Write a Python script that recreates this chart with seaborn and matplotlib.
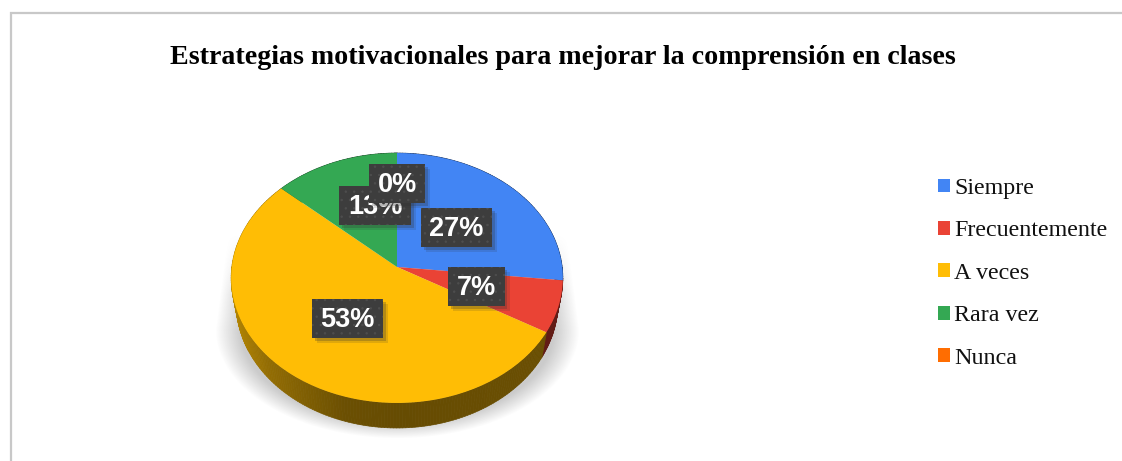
import matplotlib
matplotlib.use("Agg")
import matplotlib.pyplot as plt
import matplotlib.patheffects as pe
from matplotlib.collections import PolyCollection
from matplotlib.patches import Rectangle
from matplotlib.transforms import Transform
import numpy as np
import seaborn as sns

sns.set_theme(style="white")

titulo = "Estrategias motivacionales para mejorar la comprensión en clases"
categorias = ["Siempre", "Frecuentemente", "A veces", "Rara vez", "Nunca"]
porcentajes = [26.7, 6.7, 53.3, 13.3, 0.0]
colores = ["#4285f4", "#ea4335", "#ffbd05", "#34a853", "#ff6d01"]

# tilted pie: centre and radii in pixels of the 1122x461 canvas
CX, CY = 397, 267
RX, RY, K = 165.2, 124, 0.088
DEPTH = 25


class Tilt(Transform):
    input_dims = output_dims = 2

    def transform_non_affine(self, xy):
        xy = np.asarray(xy, dtype=float)
        d = 1 + K * xy[:, 1]
        return np.column_stack([CX + RX * xy[:, 0] / d, CY - RY * xy[:, 1] / d])


tilt = Tilt()

fig = plt.figure(figsize=(11.22, 4.61), dpi=100, facecolor="white")
ax = fig.add_axes([0, 0, 1, 1])
wedges, _, autotexts = ax.pie(porcentajes, colors=sns.color_palette(colores), startangle=90,
                              counterclock=False, autopct=lambda p: f"{p:.0f}%", pctdistance=0.5)
ax.set_aspect("auto")
ax.axis("off")

# soft grey shadow under the pie
yy, xx = np.mgrid[225:438, 205:590]
ancho_sombra = 182 - np.clip(330 - yy, 0, None) * 0.13
r = np.sqrt(((xx - CX) / ancho_sombra) ** 2 + (np.clip(yy - 330, 0, None) / 108.0) ** 2)
fade = np.clip((1 - r) / 0.14, 0, 1) * np.clip((yy - 235) / 60.0, 0, 1)
shadow = np.zeros(xx.shape + (4,))
shadow[..., :3] = 0.55
shadow[..., 3] = 0.45 * fade
ax.imshow(shadow, extent=(205, 590, 438, 225), zorder=1, aspect="auto", interpolation="bilinear")
ax.set_xlim(0, 1122)
ax.set_ylim(461, 0)

# side wall of the disc, darker towards the right
quads, caras = [], []
for w in wedges:
    if w.theta2 - w.theta1 <= 0:
        continue
    ang = np.radians(np.arange(w.theta1, w.theta2 + 1.0, 1.0))
    top = tilt.transform(np.column_stack([np.cos(ang), np.sin(ang)]))
    bot = np.column_stack([CX + 0.97 * (top[:, 0] - CX), top[:, 1] + DEPTH])
    base = np.array(w.get_facecolor()[:3])
    for i in range(len(ang) - 1):
        quads.append([top[i], top[i + 1], bot[i + 1], bot[i]])
        luz = np.interp(np.cos(ang[i]), [-1, -0.75, -0.3, 0, 1], [0.72, 0.58, 0.42, 0.40, 0.42])
        caras.append(base * luz)
ax.add_collection(PolyCollection(quads, facecolors=caras, edgecolors=caras, linewidths=0.5, zorder=2))

for w in wedges:
    w.set_transform(tilt + ax.transData)
    w.set_zorder(3)
    w.set_edgecolor("none")

# dark value boxes, later ones sit on top of earlier ones
ajustes = [(0, 1), (0, 0), (1, 0), (15, 1), (0, 1)]
alcance = [1.0, 1.0, 1.0, 1.15, 1.45]
sombras = [pe.SimplePatchShadow(offset=(3.5, -3.5), shadow_rgbFace="#333333", alpha=0.15),
           pe.SimplePatchShadow(offset=(2, -2), shadow_rgbFace="#333333", alpha=0.25),
           pe.Normal()]
plt.rcParams["hatch.linewidth"] = 0.5
fig.canvas.draw()
renderer = fig.canvas.get_renderer()
for i, t in enumerate(autotexts):
    p = np.array(t.get_position())
    x, y = tilt.transform((p * alcance[i]).reshape(1, 2))[0]
    x += ajustes[i][0]
    y += ajustes[i][1]
    t.set(position=(x, y + 1.5), color="white", fontsize=19.5, fontweight="bold", family="Liberation Sans",
          ha="center", va="center", zorder=5 + 2 * i)
    ancho = t.get_window_extent(renderer).width + 17
    caja = Rectangle((x - ancho / 2, y - 19.5), ancho, 39, facecolor="#3d3d3d", linewidth=0, zorder=4 + 2 * i)
    caja.set_path_effects(sombras)
    ax.add_patch(caja)
    ax.add_patch(Rectangle((x - ancho / 2, y - 19.5), ancho, 39, facecolor="none", edgecolor="#4e4e4e",
                           linewidth=0, hatch="..", zorder=4 + 2 * i))

ax.text(563, 58, titulo, family="Liberation Serif", fontweight="bold", fontsize=20.2,
        color="black", ha="center", va="center")

leg = ax.legend(wedges, categorias, loc="upper left", bbox_to_anchor=(938, 178), bbox_transform=ax.transData,
                frameon=False, prop={"family": "Liberation Serif", "size": 17.3}, labelcolor="#111111",
                handlelength=0.51, handleheight=0.51, handletextpad=0.17, labelspacing=0.89,
                borderpad=0, borderaxespad=0)

# chart frame, only top and left fall inside the crop
ax.plot([11.5, 11.5, 1122], [461, 13, 13], color="#c8c8c8", lw=1.6, zorder=0, solid_joinstyle="miter")

fig.savefig("out.png", dpi=100, facecolor="white")
